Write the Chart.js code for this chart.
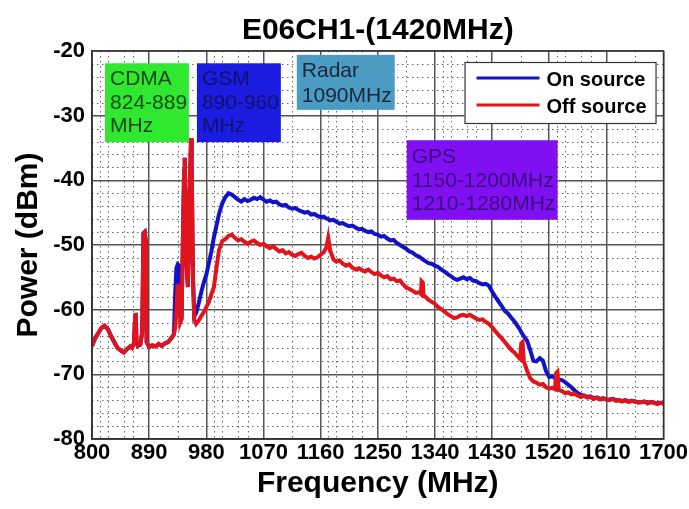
<!DOCTYPE html>
<html><head><meta charset="utf-8">
<script src="https://cdn.jsdelivr.net/npm/chart.js@4.4.1/dist/chart.umd.min.js"></script>
<style>html,body{margin:0;padding:0;background:#fff;}canvas{display:block;}</style>
</head><body>
<canvas id="c" width="689" height="509"></canvas>
<script>
// ---------------- DATA ----------------
const chartTitle = 'E06CH1-(1420MHz)';
const xTitle = 'Frequency (MHz)';
const yTitle = 'Power (dBm)';
const seriesNames = ['On source', 'Off source'];
const xTicks = [800, 890, 980, 1070, 1160, 1250, 1340, 1430, 1520, 1610, 1700];
const yTicks = [-80, -70, -60, -50, -40, -30, -20];

const freqMHz = [
  800,805,810,815,820,825,830,835,840,845,850,855,860,863,866,868,869,870,872,876,879,881,883,885,886,890,895,900,905,910,915,920,925,929,
  931,933,935,937,939,941,943,945,946,947,949,951,953,955,956,957,959,
  961,964,968,972,976,980,984,988,992,996,1000,
  1005,1010,1015,1020,1025,1030,1035,1040,1045,1050,1055,1060,1065,1070,1075,1080,1085,1090,1095,1100,1105,1110,1115,1120,1125,1130,1135,1140,1145,1150,1155,1160,1165,
  1169,1172,1175,
  1180,1185,1190,1195,1200,1205,1210,1215,1220,1225,1230,1235,1240,1245,1250,1255,1260,1265,1270,1275,1280,1285,1290,1295,1300,1305,1310,1315,
  1318,1319,1321,1322,
  1325,1330,1335,1340,1345,1350,1355,1360,1365,1370,1375,1380,1385,1390,1395,1400,1405,1410,1415,1420,1425,1430,1435,1440,1445,1450,1455,1460,1465,1470,
  1474,1476,1478,1480,
  1485,1490,1495,1500,1505,1510,1515,1520,1525,
  1529,1531,1533,1535,
  1540,1545,1550,1555,1560,1565,1570,1575,1580,1585,1590,1595,1600,1605,1610,1615,1620,1625,1630,1635,1640,1645,1650,1655,1660,1665,1670,1675,1680,1685,1690,1695,1700
];

const offSource = [
  -65.6,-64.4,-63.6,-62.8,-62.5,-63.0,-64.1,-65.0,-65.9,-66.3,-66.6,-66.1,-65.7,-65.9,-65.2,-61.0,-60.5,-64.8,-65.6,-65.4,-63.5,-48.2,-48.0,-49.5,-65.0,-65.8,-65.5,-65.7,-65.3,-65.6,-65.2,-65.0,-64.4,-63.8,
  -62.8,-60.0,-56.0,-57.5,-62.0,-61.5,-50.0,-38.5,-36.5,-41.0,-53.0,-56.5,-47.0,-37.0,-33.5,-38.0,-55.0,
  -61.5,-62.2,-61.7,-61.0,-60.4,-59.6,-58.8,-57.6,-56.5,-53.5,-50.8,
  -49.4,-49.1,-48.6,-48.4,-48.9,-49.3,-49.1,-49.5,-49.8,-49.5,-49.3,-49.7,-50.0,-49.8,-50.2,-50.5,-50.2,-50.6,-51.0,-50.8,-51.3,-51.1,-51.5,-51.7,-51.4,-51.2,-51.7,-52.0,-51.8,-52.1,-51.9,-51.5,-51.1,
  -50.4,-48.9,-50.8,
  -52.2,-52.6,-52.4,-52.9,-53.2,-53.0,-53.5,-53.8,-53.6,-53.9,-54.1,-53.8,-54.2,-54.5,-54.3,-54.7,-55.0,-54.8,-55.3,-55.2,-55.6,-55.5,-56.1,-56.6,-56.8,-57.1,-57.4,-57.3,
  -57.6,-55.6,-55.8,-57.8,
  -58.0,-58.5,-58.8,-59.1,-59.6,-59.9,-60.3,-60.7,-61.0,-61.3,-61.2,-60.9,-60.8,-61.0,-60.8,-61.1,-61.4,-61.6,-61.5,-61.9,-62.2,-62.7,-63.3,-63.9,-64.4,-65.0,-65.6,-66.2,-66.6,-67.2,
  -67.6,-65.2,-65.0,-68.0,
  -69.4,-70.6,-71.1,-71.3,-71.6,-71.5,-72.0,-72.2,-72.1,
  -72.3,-69.8,-69.6,-72.4,
  -72.6,-72.9,-72.8,-73.1,-73.0,-73.3,-73.5,-73.3,-73.6,-73.5,-73.8,-73.6,-73.9,-73.7,-73.9,-74.0,-73.8,-74.1,-74.0,-74.2,-74.0,-74.3,-74.1,-74.2,-74.4,-74.3,-74.2,-74.5,-74.3,-74.4,-74.6,-74.4,-74.5
];

const onSource = [
  -65.6,-64.4,-63.6,-62.8,-62.5,-63.0,-64.1,-65.0,-65.9,-66.3,-66.6,-66.1,-65.7,-65.9,-65.2,-61.0,-60.5,-64.8,-65.6,-65.4,-63.5,-48.2,-48.0,-49.5,-65.0,-65.8,-65.5,-65.7,-65.3,-65.6,-65.2,-65.0,-64.4,-63.8,
  -57.5,-53.5,-53.0,-53.2,-60.0,-61.5,-50.0,-38.5,-36.5,-41.0,-53.0,-56.5,-47.0,-37.0,-33.5,-38.0,-55.0,
  -61.0,-60.5,-59.0,-57.3,-55.8,-54.6,-52.8,-51.0,-48.8,-47.0,-45.2,
  -43.6,-42.6,-42.0,-42.2,-42.6,-43.0,-43.3,-42.9,-43.2,-43.0,-42.7,-42.9,-42.6,-43.0,-43.3,-43.1,-43.4,-43.3,-43.7,-43.9,-43.8,-44.2,-44.4,-44.3,-44.6,-44.8,-45.0,-44.9,-45.3,-45.2,-45.5,-45.7,-45.6,
  -45.9,-46.0,-46.2,
  -46.1,-46.4,-46.7,-46.6,-46.9,-47.1,-47.0,-47.3,-47.6,-47.5,-47.8,-48.0,-47.9,-48.3,-48.4,-48.7,-48.6,-49.0,-49.3,-49.2,-49.7,-50.0,-50.3,-50.6,-51.0,-51.2,-51.6,-51.8,
  -52.0,-52.1,-52.2,-52.3,
  -52.5,-52.8,-52.9,-53.2,-53.4,-53.8,-54.1,-54.5,-54.8,-55.2,-55.4,-55.2,-55.0,-55.3,-55.1,-55.5,-55.6,-55.9,-56.1,-56.0,-56.3,-57.2,-58.0,-58.7,-59.4,-60.2,-60.6,-61.2,-61.8,-62.5,
  -63.1,-63.5,-63.8,-64.1,
  -64.8,-66.2,-67.9,-68.0,-67.5,-67.9,-69.5,-70.4,-70.3,
  -70.6,-70.6,-70.7,-70.8,
  -70.9,-71.2,-71.6,-72.0,-72.5,-72.9,-73.2,-73.3,-73.5,-73.4,-73.7,-73.6,-73.8,-73.7,-73.9,-73.9,-73.8,-74.0,-74.0,-74.1,-74.0,-74.2,-74.1,-74.2,-74.3,-74.3,-74.2,-74.4,-74.3,-74.4,-74.5,-74.4,-74.5
];

const bandLabels = [
  ['CDMA', '824-889', 'MHz'],
  ['GSM', '890-960', 'MHz'],
  ['Radar', '1090MHz'],
  ['GPS', '1150-1200MHz', '1210-1280MHz']
];

// ---------------- LAYOUT / STYLE ----------------
const FONT = '"Liberation Sans", Arial, sans-serif';
const bandBoxes = [
  {x0: 820.5, x1: 952.6, y0: -21.9, y1: -34.1, fill: '#2fe82f', ink: '#0e4a12', first: 22, step: 23.5},
  {x0: 965.2, x1: 1097.4, y0: -21.9, y1: -34.1, fill: '#1c1ce0', ink: '#11116e', first: 22, step: 23.5},
  {x0: 1122.5, x1: 1276.7, y0: -20.6, y1: -29.1, fill: '#4b9bc3', ink: '#17283c', first: 22, step: 25},
  {x0: 1295.6, x1: 1533.2, y0: -33.8, y1: -46.1, fill: '#8010f2', ink: '#3a0c7e', first: 23, step: 23.5}
];
const ON_COLOR = '#1212c8';
const OFF_COLOR = '#e0141a';

const offPts = freqMHz.map((f, i) => ({x: f, y: offSource[i]}));
const onPts = freqMHz.map((f, i) => ({x: f, y: onSource[i]}));

const decorPlugin = {
  id: 'decor',
  beforeDraw(chart) {
    const ctx = chart.ctx;
    ctx.save();
    ctx.fillStyle = '#ffffff';
    ctx.fillRect(0, 0, chart.width, chart.height);
    ctx.restore();
  },
  beforeDatasetsDraw(chart) {
    const {ctx, chartArea: a, scales: {x, y}} = chart;
    ctx.save();
    ctx.strokeStyle = '#666';
    ctx.lineWidth = 1;
    ctx.setLineDash([1.5, 3.5]);
    for (let v = -78; v < -20; v += 2) {
      if (v % 10 === 0) continue;
      const py = Math.round(y.getPixelForValue(v)) + 0.5;
      ctx.beginPath(); ctx.moveTo(a.left, py); ctx.lineTo(a.right, py); ctx.stroke();
    }
    for (let k = 0; k < xTicks.length - 1; k++) {
      const offs = (k % 2 === 0) ? [12, 25, 50, 65] : [45];
      offs.forEach(o => {
        const px = Math.round(x.getPixelForValue(xTicks[k] + o)) + 0.5;
        ctx.beginPath(); ctx.moveTo(px, a.top); ctx.lineTo(px, a.bottom); ctx.stroke();
      });
    }
    ctx.restore();
  },
  afterDatasetsDraw(chart) {
    const {ctx, scales: {x, y}} = chart;
    ctx.save();
    bandBoxes.forEach((b, i) => {
      const l = x.getPixelForValue(b.x0), r = x.getPixelForValue(b.x1);
      const t = y.getPixelForValue(b.y0), btm = y.getPixelForValue(b.y1);
      ctx.fillStyle = b.fill;
      ctx.fillRect(l, t, r - l, btm - t);
      ctx.fillStyle = b.ink;
      ctx.font = '21px ' + FONT;
      ctx.textBaseline = 'alphabetic';
      ctx.textAlign = 'left';
      bandLabels[i].forEach((s, j) => ctx.fillText(s, l + 5, t + b.first + j * b.step));
    });
    const a = chart.chartArea;
    ctx.strokeStyle = '#333';
    ctx.lineWidth = 1.5;
    ctx.strokeRect(a.left, a.top, a.right - a.left, a.bottom - a.top);
    ctx.restore();
  },
  afterDraw(chart) {
    const {ctx, chartArea: a} = chart;
    ctx.save();
    const bx = a.right - 199, by = a.top + 11, bw = 191, bh = 61;
    ctx.fillStyle = '#fff';
    ctx.fillRect(bx, by, bw, bh);
    ctx.strokeStyle = '#333';
    ctx.lineWidth = 1.2;
    ctx.strokeRect(bx + 0.5, by + 0.5, bw, bh);
    const colors = [ON_COLOR, OFF_COLOR];
    ctx.font = 'bold 20px ' + FONT;
    ctx.textBaseline = 'alphabetic';
    seriesNames.forEach((n, i) => {
      const ly = by + 16 + i * 27;
      ctx.strokeStyle = colors[i];
      ctx.lineWidth = 3;
      ctx.beginPath(); ctx.moveTo(bx + 12, ly); ctx.lineTo(bx + 75, ly); ctx.stroke();
      ctx.fillStyle = '#000';
      ctx.fillText(n, bx + 82, ly + 8);
    });
    ctx.restore();
  }
};

new Chart(document.getElementById('c'), {
  type: 'line',
  data: {
    datasets: [
      {label: seriesNames[1], data: offPts, borderColor: OFF_COLOR, borderWidth: 4, pointRadius: 0, tension: 0, fill: false},
      {label: seriesNames[0], data: onPts, borderColor: ON_COLOR, borderWidth: 4, pointRadius: 0, tension: 0, fill: false}
    ]
  },
  options: {
    responsive: false,
    animation: false,
    devicePixelRatio: 1,
    layout: {padding: {left: 0, right: 25, top: 0, bottom: 0}},
    plugins: {
      legend: {display: false},
      tooltip: {enabled: false},
      title: {
        display: true, text: chartTitle, color: '#000', fullSize: false,
        font: {family: FONT, size: 30, weight: 'bold', lineHeight: 1.2},
        padding: {top: 13, bottom: 2}
      }
    },
    scales: {
      x: {
        type: 'linear', min: 800, max: 1700,
        afterBuildTicks: s => { s.ticks = xTicks.map(v => ({value: v})); },
        afterFit: s => { s.height = 70; },
        ticks: {color: '#000', font: {family: FONT, size: 22, weight: 'bold'}, padding: 1, maxRotation: 0, autoSkip: false, callback: v => String(v)},
        grid: {color: '#555', lineWidth: 1.5, drawTicks: false},
        border: {display: true, color: '#333', width: 1.5},
        title: {display: true, text: xTitle, color: '#000', font: {family: FONT, size: 30, weight: 'bold', lineHeight: 1.2}, padding: {top: 0, bottom: 7}}
      },
      y: {
        type: 'linear', min: -80, max: -20,
        afterBuildTicks: s => { s.ticks = yTicks.map(v => ({value: v})); },
        afterFit: s => { s.width = 92; },
        ticks: {color: '#000', font: {family: FONT, size: 22, weight: 'bold'}, padding: 7, callback: v => String(v)},
        grid: {color: '#555', lineWidth: 1.5, drawTicks: false},
        border: {display: true, color: '#333', width: 1.5},
        title: {display: true, text: yTitle, color: '#000', font: {family: FONT, size: 30, weight: 'bold', lineHeight: 1.2}, padding: {top: 11, bottom: 0}}
      }
    }
  },
  plugins: [decorPlugin]
});
</script>
</body></html>
